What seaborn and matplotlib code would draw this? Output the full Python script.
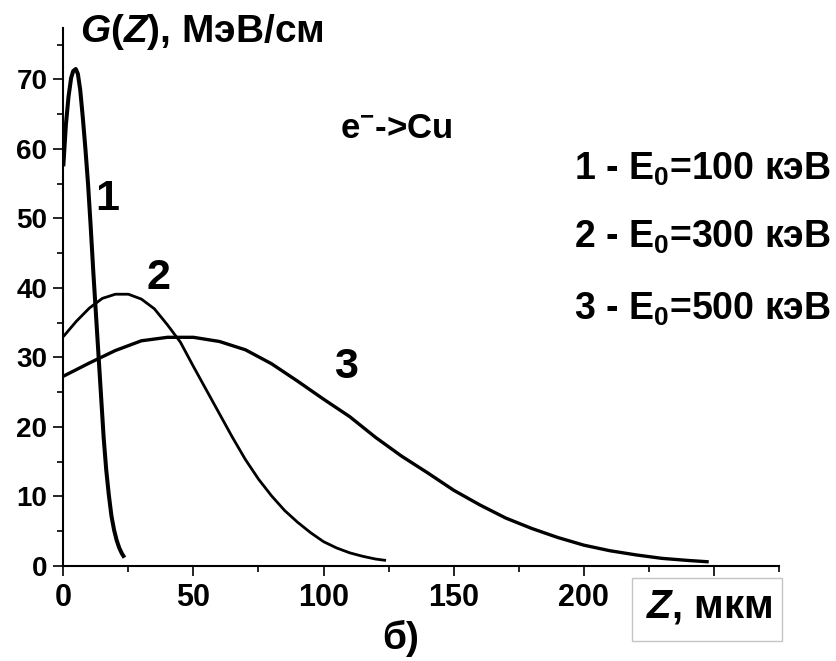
import numpy as np
import pandas as pd
import matplotlib
matplotlib.use("Agg")
import matplotlib.pyplot as plt
import seaborn as sns
from matplotlib.ticker import MultipleLocator
from matplotlib.patches import Rectangle

# ---- data ----
z1 = [0, 1, 2, 3, 3.8, 4.8, 5.6, 6.5, 7.5, 8.5, 9.5, 10.5, 11.5, 12.5, 13.5, 14.5, 15.5,
      16.5, 17.5, 18.5, 19.5, 20.5, 21.5, 22.5, 23.5]
g1 = [57.5, 63.5, 67.5, 70.2, 71.2, 71.5, 70.8, 68.5, 64.5, 60, 55, 49, 42.5, 36.5, 30.5,
      24.5, 18.5, 13.8, 10.2, 7.2, 5.2, 3.7, 2.6, 1.8, 1.2]

z2 = [0, 5, 10, 15, 20, 25, 30, 35, 40, 45, 50, 55, 60, 65, 70, 75, 80, 85, 90, 95, 100,
      105, 110, 115, 120, 124]
g2 = [33, 35.2, 37.1, 38.5, 39.1, 39.1, 38.4, 37, 34.7, 32.2, 28.7, 25.3, 21.9, 18.5, 15.3,
      12.5, 10.1, 8.0, 6.3, 4.8, 3.5, 2.6, 1.9, 1.4, 1.0, 0.8]

z3 = [0, 10, 20, 30, 40, 50, 60, 70, 80, 90, 100, 110, 120, 130, 140, 150, 160, 170, 180,
      190, 200, 210, 220, 230, 240, 248]
g3 = [27.3, 29.2, 31.0, 32.4, 32.9, 32.9, 32.3, 31.1, 29.1, 26.6, 24.0, 21.5, 18.5, 15.8,
      13.4, 10.9, 8.8, 6.9, 5.4, 4.1, 3.0, 2.2, 1.6, 1.1, 0.8, 0.6]

curve_names = ["1", "2", "3"]
legend_lines = ["1 - E$_0$=100 кэВ", "2 - E$_0$=300 кэВ", "3 - E$_0$=500 кэВ"]
x_ticks = [0, 50, 100, 150, 200, 250]
x_tick_labels = ["0", "50", "100", "150", "200", ""]   # 250 is hidden under the Z box
y_ticks = [0, 10, 20, 30, 40, 50, 60, 70]

df = pd.concat([
    pd.DataFrame({"z": z1, "g": g1, "curve": "1"}),
    pd.DataFrame({"z": z2, "g": g2, "curve": "2"}),
    pd.DataFrame({"z": z3, "g": g3, "curve": "3"}),
], ignore_index=True)

# ---- style ----
sns.set_theme(style="ticks")
plt.rcParams['font.family'] = ['Liberation Sans', 'DejaVu Sans']
plt.rcParams['font.weight'] = 'bold'
plt.rcParams['text.color'] = 'black'
plt.rcParams['axes.labelcolor'] = 'black'
plt.rcParams['xtick.color'] = 'black'
plt.rcParams['ytick.color'] = 'black'
plt.rcParams['mathtext.fontset'] = 'custom'
plt.rcParams['mathtext.rm'] = 'Liberation Sans:bold'
plt.rcParams['mathtext.it'] = 'Liberation Sans:italic:bold'
plt.rcParams['mathtext.bf'] = 'Liberation Sans:bold'

W, H = 836, 661
fig = plt.figure(figsize=(W / 100, H / 100), dpi=100)
fig.patch.set_facecolor("white")
ax = fig.add_axes([63.3 / W, 1 - 566 / H, (779 - 63.3) / W, (566 - 28) / H])
ax.set_facecolor("white")

widths = {"1": 2.9, "2": 2.0, "3": 2.4}
for c in curve_names:
    sns.lineplot(data=df[df.curve == c], x="z", y="g", color="black",
                 linewidth=widths[c], ax=ax, sort=False, estimator=None,
                 solid_capstyle="butt")

ax.set_xlim(0, 275)
ax.set_ylim(0, 77.4)
ax.set_xticks(x_ticks)
ax.set_xticklabels(x_tick_labels)
ax.set_yticks(y_ticks)
ax.xaxis.set_minor_locator(MultipleLocator(25))
ax.yaxis.set_minor_locator(MultipleLocator(5))
ax.set_xlabel("")
ax.set_ylabel("")
for s in ["top", "right"]:
    ax.spines[s].set_visible(False)
for s in ["left", "bottom"]:
    ax.spines[s].set_linewidth(1.5)
    ax.spines[s].set_color("black")
ax.tick_params(which="major", length=7.5, width=1.2, color="black", direction="out")
ax.tick_params(which="minor", length=4.5, width=1.2, color="black", direction="out")
ax.tick_params(axis="y", labelsize=20, pad=4)
ax.tick_params(axis="x", labelsize=22, pad=5)
for lab in ax.get_xticklabels() + ax.get_yticklabels():
    lab.set_fontweight("bold")
    lab.set_color("black")


def px(x, y):
    return x / W, 1 - y / H


# axis title
fig.text(*px(80, 42), "$G(Z)$, МэВ/см", fontsize=28, ha="left", va="baseline")

# curve labels
fig.text(*px(107, 210), curve_names[0], fontsize=31, ha="center", va="baseline")
fig.text(*px(158, 289), curve_names[1], fontsize=31, ha="center", va="baseline")
fig.text(*px(346, 378), curve_names[2], fontsize=31, ha="center", va="baseline")

# reaction
fig.text(*px(340, 138), "e$^{-}$->Cu", fontsize=25, ha="left", va="baseline")

# legend lines
for (x, y), txt in zip([(831, 180), (831, 248), (831, 320)], legend_lines):
    fig.text(*px(x, y), txt, fontsize=27, ha="right", va="baseline")

# x-axis label box
x0, y0 = px(632, 641)
rect = Rectangle((x0, y0), (782 - 632) / W, (641 - 578) / H, transform=fig.transFigure,
                 facecolor="white", edgecolor="#c4c4c4", linewidth=1.0, zorder=5)
fig.patches.append(rect)
fig.text(*px(709, 618), "$Z$, мкм", fontsize=29, ha="center", va="baseline", zorder=6)

# panel label
fig.text(*px(401, 638), "б)", fontsize=28, ha="center", va="center")

fig.savefig("out.png", dpi=100, facecolor="white")
